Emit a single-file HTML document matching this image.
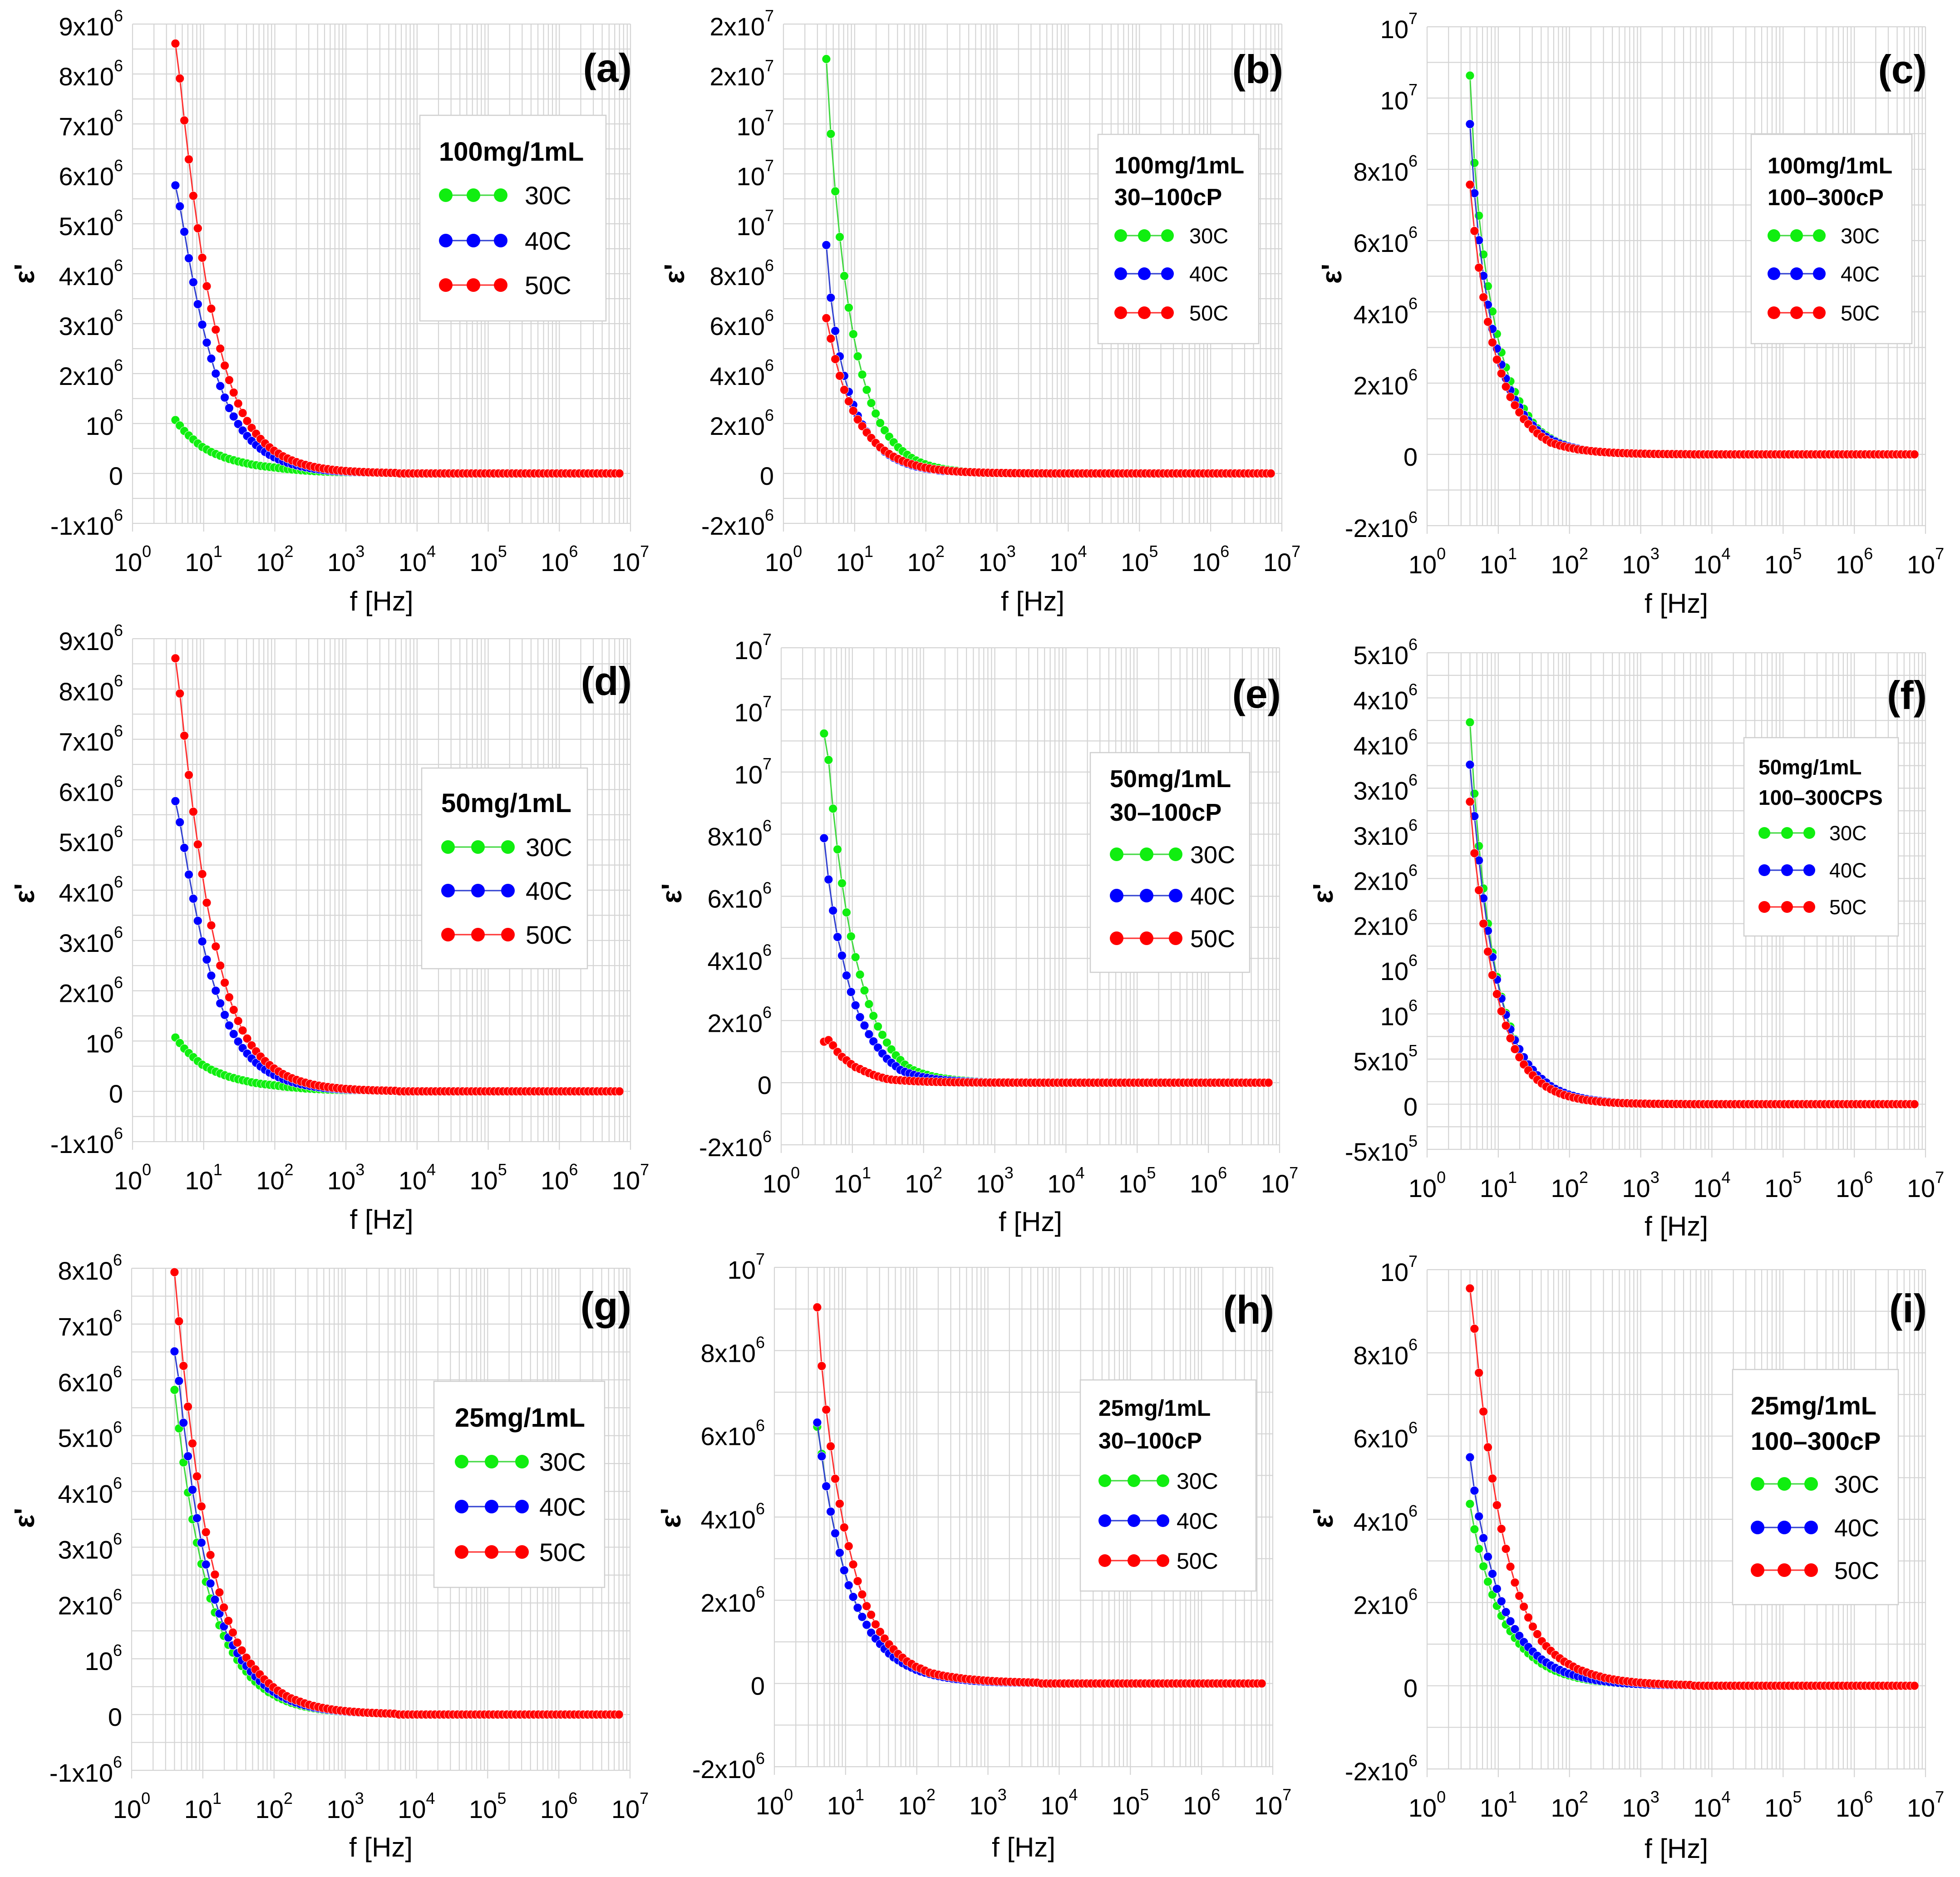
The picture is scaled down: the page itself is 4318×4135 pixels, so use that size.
<!DOCTYPE html>
<html><head><meta charset="utf-8"><title>Dielectric permittivity vs frequency</title>
<style>
html,body{margin:0;padding:0;background:#fff;}
svg{display:block;font-family:"Liberation Sans",Arial,sans-serif;}
</style></head>
<body>
<svg id="chart" width="4318" height="4135" viewBox="0 0 4318 4135" xmlns="http://www.w3.org/2000/svg"></svg>
<script>
// ---------- DATA (values in units of 1e6) ----------
const freqs = Array.from({length:100},(_,i)=>4*Math.pow(7e6/4,i/99));
const Z10 = [0,0,0,0,0,0,0,0,0,0];

const a30 = [1.07,0.96,0.85,0.76,0.68,0.60,0.53,0.48,0.43,0.39,0.355,0.32,0.29,0.265,0.24,0.22,0.20,0.18,0.165,0.15,0.14,0.13,0.12,.108,.097,.087,.079,.071,.064,.057,.052,.046,.042,.038,.034,.031,.028,.025,.022,.020,.018,.016,.015,.013,.012,.011,.010,.009,.008,.007,0,0,0,0,0,0,0,0,0,0,0,0,0,0,0,0,0,0,0,0,0,0,0,0,0,0,0,0,0,0,0,0,0,0,0,0,0,0,0,0,0,0,0,0,0,0,0,0,0,0];
const a40 = [5.77,5.35,4.84,4.31,3.83,3.39,2.98,2.62,2.30,2.00,1.75,1.52,1.31,1.14,0.99,0.86,0.75,.653,.568,.494,.430,.374,.325,.283,.246,.214,.186,.162,.141,.123,.107,.093,.081,.070,.061,.053,.046,.040,.035,.030,.026,.023,.020,.017,.015,.013,.011,.010,.009,.008,0,0,0,0,0,0,0,0,0,0,0,0,0,0,0,0,0,0,0,0,0,0,0,0,0,0,0,0,0,0,0,0,0,0,0,0,0,0,0,0,0,0,0,0,0,0,0,0,0,0];
const a50 = [8.61,7.91,7.07,6.29,5.56,4.91,4.32,3.75,3.30,2.88,2.50,2.16,1.87,1.62,1.40,1.21,1.05,.913,.795,.691,.601,.523,.455,.396,.344,.300,.261,.227,.197,.172,.149,.130,.113,.098,.086,.074,.065,.056,.049,.043,.037,.032,.028,.024,.021,.018,.016,.014,.012,.011,0,0,0,0,0,0,0,0,0,0,0,0,0,0,0,0,0,0,0,0,0,0,0,0,0,0,0,0,0,0,0,0,0,0,0,0,0,0,0,0,0,0,0,0,0,0,0,0,0,0];

const b30 = [16.6,13.6,11.3,9.47,7.91,6.64,5.58,4.69,3.96,3.35,2.82,2.40,2.02,1.73,1.47,1.25,1.05,0.89,0.75,0.62,.52,.44,.37,.31,.26,.22,.18,.15,.13,.11,.09,.077,.065,.054,.046,.038,.032,.027,.023,.019,.016,.014,.011,.010,.008,.007,.006,.005,.004,.003,0,0,0,0,0,0,0,0,0,0,0,0,0,0,0,0,0,0,0,0,0,0,0,0,0,0,0,0,0,0,0,0,0,0,0,0,0,0,0,0,0,0,0,0,0,0,0,0,0,0];
const b40 = [9.15,7.04,5.71,4.69,3.91,3.27,2.75,2.31,1.96,1.67,1.42,1.21,1.03,.87,.74,.63,.54,.46,.39,.33,.28,.24,.20,.17,.15,.12,.10,.09,.08,.065,.055,.047,.04,.034,.029,.025,.021,.018,.015,.013,.011,.009,.008,.007,.006,.005,.004,.003,.003,.002,0,0,0,0,0,0,0,0,0,0,0,0,0,0,0,0,0,0,0,0,0,0,0,0,0,0,0,0,0,0,0,0,0,0,0,0,0,0,0,0,0,0,0,0,0,0,0,0,0,0];
const b50 = [6.22,5.40,4.58,3.91,3.35,2.89,2.51,2.16,1.89,1.64,1.42,1.22,1.05,0.91,0.78,0.67,.58,.50,.43,.37,.32,.27,.23,.20,.17,.15,.13,.11,.095,.082,.07,.06,.052,.045,.038,.033,.028,.024,.021,.018,.016,.013,.011,.010,.008,.007,.006,.005,.005,.004,0,0,0,0,0,0,0,0,0,0,0,0,0,0,0,0,0,0,0,0,0,0,0,0,0,0,0,0,0,0,0,0,0,0,0,0,0,0,0,0,0,0,0,0,0,0,0,0,0,0];

const c30 = [10.63,8.18,6.70,5.61,4.72,4.01,3.38,2.86,2.44,2.05,1.75,1.49,1.28,1.08,0.89,0.73,.62,.53,.45,.38,.32,.28,.23,.20,.17,.145,.12,.105,.09,.075,.064,.054,.046,.039,.033,.028,.024,.02,.017,.015,.013,.011,.009,.008,.007,.006,.005,.004,.004,.003,0,0,0,0,0,0,0,0,0,0,0,0,0,0,0,0,0,0,0,0,0,0,0,0,0,0,0,0,0,0,0,0,0,0,0,0,0,0,0,0,0,0,0,0,0,0,0,0,0,0];
const c40 = [9.27,7.33,6.01,5.01,4.20,3.52,2.97,2.52,2.13,1.80,1.53,1.32,1.11,.95,.81,.68,.58,.49,.42,.36,.30,.26,.22,.19,.16,.135,.115,.098,.083,.071,.06,.051,.043,.037,.031,.027,.023,.019,.016,.014,.012,.01,.009,.007,.006,.005,.005,.004,.003,.003,0,0,0,0,0,0,0,0,0,0,0,0,0,0,0,0,0,0,0,0,0,0,0,0,0,0,0,0,0,0,0,0,0,0,0,0,0,0,0,0,0,0,0,0,0,0,0,0,0,0];
const c50 = [7.57,6.27,5.24,4.41,3.72,3.14,2.66,2.27,1.90,1.61,1.38,1.18,0.99,0.85,0.71,0.59,0.49,0.41,0.33,.29,.25,.22,.19,.165,.14,.125,.11,.094,.082,.071,.062,.054,.047,.041,.036,.031,.027,.023,.02,.018,.015,.013,.012,.01,.009,.008,.007,.006,.005,.004,0,0,0,0,0,0,0,0,0,0,0,0,0,0,0,0,0,0,0,0,0,0,0,0,0,0,0,0,0,0,0,0,0,0,0,0,0,0,0,0,0,0,0,0,0,0,0,0,0,0];

const d30 = [1.07,0.96,0.85,0.76,0.68,0.60,0.53,0.48,0.43,0.39,0.355,0.32,0.29,0.265,0.24,0.22,0.20,0.18,0.165,0.15,0.14,0.13,0.12,.108,.097,.087,.079,.071,.064,.057,.052,.046,.042,.038,.034,.031,.028,.025,.022,.020,.018,.016,.015,.013,.012,.011,.010,.009,.008,.007,0,0,0,0,0,0,0,0,0,0,0,0,0,0,0,0,0,0,0,0,0,0,0,0,0,0,0,0,0,0,0,0,0,0,0,0,0,0,0,0,0,0,0,0,0,0,0,0,0,0];
const d40 = [5.77,5.35,4.84,4.31,3.83,3.39,2.98,2.62,2.30,2.00,1.75,1.52,1.31,1.14,0.99,0.86,0.75,.653,.568,.494,.430,.374,.325,.283,.246,.214,.186,.162,.141,.123,.107,.093,.081,.070,.061,.053,.046,.040,.035,.030,.026,.023,.020,.017,.015,.013,.011,.010,.009,.008,0,0,0,0,0,0,0,0,0,0,0,0,0,0,0,0,0,0,0,0,0,0,0,0,0,0,0,0,0,0,0,0,0,0,0,0,0,0,0,0,0,0,0,0,0,0,0,0,0,0];
const d50 = [8.61,7.91,7.07,6.29,5.56,4.91,4.32,3.75,3.30,2.88,2.50,2.16,1.87,1.62,1.40,1.21,1.05,.913,.795,.691,.601,.523,.455,.396,.344,.300,.261,.227,.197,.172,.149,.130,.113,.098,.086,.074,.065,.056,.049,.043,.037,.032,.028,.024,.021,.018,.016,.014,.012,.011,0,0,0,0,0,0,0,0,0,0,0,0,0,0,0,0,0,0,0,0,0,0,0,0,0,0,0,0,0,0,0,0,0,0,0,0,0,0,0,0,0,0,0,0,0,0,0,0,0,0];

const e30 = [11.24,10.39,8.82,7.51,6.42,5.48,4.71,4.04,3.48,2.97,2.53,2.15,1.81,1.54,1.29,1.07,0.88,0.73,0.58,0.47,.40,.34,.29,.25,.21,.18,.15,.13,.11,.093,.079,.067,.057,.048,.041,.035,.03,.025,.021,.018,.015,.013,.011,.009,.008,.007,.006,.005,.004,.004,0,0,0,0,0,0,0,0,0,0,0,0,0,0,0,0,0,0,0,0,0,0,0,0,0,0,0,0,0,0,0,0,0,0,0,0,0,0,0,0,0,0,0,0,0,0,0,0,0,0];
const e40 = [7.87,6.54,5.54,4.69,4.09,3.45,2.92,2.49,2.11,1.84,1.56,1.33,1.13,.94,.77,.64,.53,.41,.35,.30,.25,.21,.18,.155,.13,.11,.095,.08,.068,.058,.05,.042,.036,.03,.026,.022,.019,.016,.013,.011,.01,.008,.007,.006,.005,.004,.004,.003,.003,.002,0,0,0,0,0,0,0,0,0,0,0,0,0,0,0,0,0,0,0,0,0,0,0,0,0,0,0,0,0,0,0,0,0,0,0,0,0,0,0,0,0,0,0,0,0,0,0,0,0,0];
const e50 = [1.32,1.37,1.20,0.99,0.83,0.72,0.60,0.50,0.44,0.37,0.31,0.25,0.20,0.16,0.12,0.10,.087,.076,.066,.057,.05,.043,.038,.033,.029,.025,.022,.019,.016,.014,.012,.011,.009,.008,.007,.006,.005,.005,.004,.004,.003,.003,.002,.002,.002,.002,.001,.001,.001,.001,0,0,0,0,0,0,0,0,0,0,0,0,0,0,0,0,0,0,0,0,0,0,0,0,0,0,0,0,0,0,0,0,0,0,0,0,0,0,0,0,0,0,0,0,0,0,0,0,0,0];

const f30 = [4.23,3.44,2.86,2.39,2.00,1.68,1.41,1.19,1.01,0.86,0.72,0.61,.52,.44,.37,.32,.27,.23,.195,.166,.141,.12,.102,.087,.074,.063,.053,.045,.038,.033,.028,.024,.02,.017,.015,.012,.011,.009,.008,.007,.006,.005,.004,.004,.003,.003,.002,.002,.002,.001,0,0,0,0,0,0,0,0,0,0,0,0,0,0,0,0,0,0,0,0,0,0,0,0,0,0,0,0,0,0,0,0,0,0,0,0,0,0,0,0,0,0,0,0,0,0,0,0,0,0];
const f40 = [3.76,3.19,2.70,2.28,1.92,1.63,1.38,1.17,0.99,0.83,.71,.61,.52,.44,.38,.32,.28,.24,.2,.17,.147,.126,.107,.092,.078,.067,.057,.049,.042,.036,.031,.026,.022,.019,.016,.014,.012,.01,.009,.008,.007,.006,.005,.004,.004,.003,.003,.002,.002,.002,0,0,0,0,0,0,0,0,0,0,0,0,0,0,0,0,0,0,0,0,0,0,0,0,0,0,0,0,0,0,0,0,0,0,0,0,0,0,0,0,0,0,0,0,0,0,0,0,0,0];
const f50 = [3.35,2.78,2.37,2.00,1.69,1.43,1.22,1.03,0.87,0.73,0.61,.52,.44,.375,.32,.27,.23,.195,.166,.141,.12,.102,.087,.074,.063,.053,.045,.038,.033,.028,.024,.02,.017,.015,.012,.011,.009,.008,.007,.006,.005,.004,.004,.003,.003,.002,.002,.002,.001,.001,0,0,0,0,0,0,0,0,0,0,0,0,0,0,0,0,0,0,0,0,0,0,0,0,0,0,0,0,0,0,0,0,0,0,0,0,0,0,0,0,0,0,0,0,0,0,0,0,0,0];

const g30 = [5.82,5.13,4.52,3.98,3.50,3.08,2.70,2.38,2.08,1.83,1.60,1.41,1.25,1.11,0.98,0.87,.77,.67,.59,.52,.46,.40,.36,.31,.275,.24,.21,.186,.164,.144,.127,.112,.098,.086,.076,.067,.059,.052,.046,.04,.035,.031,.027,.024,.021,.019,.017,.015,.013,.011,0,0,0,0,0,0,0,0,0,0,0,0,0,0,0,0,0,0,0,0,0,0,0,0,0,0,0,0,0,0,0,0,0,0,0,0,0,0,0,0,0,0,0,0,0,0,0,0,0,0];
const g40 = [6.51,5.98,5.23,4.63,4.03,3.52,3.08,2.69,2.35,2.06,1.81,1.58,1.38,1.24,1.10,0.97,0.87,0.77,.68,.60,.53,.46,.41,.36,.32,.28,.245,.215,.19,.167,.147,.129,.114,.1,.088,.077,.068,.06,.053,.046,.041,.036,.032,.028,.025,.022,.019,.017,.015,.013,0,0,0,0,0,0,0,0,0,0,0,0,0,0,0,0,0,0,0,0,0,0,0,0,0,0,0,0,0,0,0,0,0,0,0,0,0,0,0,0,0,0,0,0,0,0,0,0,0,0];
const g50 = [7.93,7.05,6.25,5.52,4.86,4.27,3.73,3.27,2.86,2.51,2.19,1.92,1.68,1.47,1.29,1.15,1.02,0.91,0.81,0.72,.63,.56,.49,.43,.38,.33,.29,.26,.23,.20,.175,.154,.135,.119,.105,.092,.081,.071,.063,.055,.049,.043,.037,.033,.029,.026,.022,.02,.017,.015,0,0,0,0,0,0,0,0,0,0,0,0,0,0,0,0,0,0,0,0,0,0,0,0,0,0,0,0,0,0,0,0,0,0,0,0,0,0,0,0,0,0,0,0,0,0,0,0,0,0];

const h30 = [6.17,5.52,4.74,4.13,3.60,3.13,2.71,2.35,2.07,1.81,1.59,1.40,1.21,1.07,.94,.82,.71,.62,.55,.48,.43,.38,.33,.29,.26,.23,.2,.176,.155,.136,.12,.105,.093,.082,.072,.063,.056,.049,.043,.038,.033,.029,.026,.023,.02,.018,.016,.014,.012,.011,0,0,0,0,0,0,0,0,0,0,0,0,0,0,0,0,0,0,0,0,0,0,0,0,0,0,0,0,0,0,0,0,0,0,0,0,0,0,0,0,0,0,0,0,0,0,0,0,0,0];
const h40 = [6.27,5.46,4.74,4.13,3.61,3.14,2.72,2.36,2.08,1.82,1.60,1.41,1.22,1.08,0.95,0.83,0.72,0.63,0.56,0.49,.43,.38,.33,.29,.26,.23,.2,.176,.155,.136,.12,.105,.093,.082,.072,.063,.056,.049,.043,.038,.033,.029,.026,.023,.02,.018,.016,.014,.012,.011,0,0,0,0,0,0,0,0,0,0,0,0,0,0,0,0,0,0,0,0,0,0,0,0,0,0,0,0,0,0,0,0,0,0,0,0,0,0,0,0,0,0,0,0,0,0,0,0,0,0];
const h50 = [9.04,7.63,6.58,5.70,4.92,4.32,3.75,3.30,2.86,2.46,2.14,1.86,1.65,1.42,1.24,1.08,0.94,0.82,0.71,0.62,0.53,0.47,0.40,0.36,0.31,0.26,.235,.21,.19,.17,.155,.14,.125,.11,.10,.09,.081,.073,.066,.059,.053,.048,.043,.039,.035,.031,.028,.025,.023,.02,0,0,0,0,0,0,0,0,0,0,0,0,0,0,0,0,0,0,0,0,0,0,0,0,0,0,0,0,0,0,0,0,0,0,0,0,0,0,0,0,0,0,0,0,0,0,0,0,0,0];

const i30 = [4.37,3.76,3.29,2.87,2.50,2.19,1.92,1.68,1.47,1.31,1.15,1.01,.89,.78,.69,.61,.53,.47,.41,.36,.32,.28,.25,.22,.19,.17,.15,.13,.115,.1,.089,.078,.069,.061,.053,.047,.041,.036,.032,.028,.025,.022,.019,.017,.015,.013,.012,.01,.009,.008,0,0,0,0,0,0,0,0,0,0,0,0,0,0,0,0,0,0,0,0,0,0,0,0,0,0,0,0,0,0,0,0,0,0,0,0,0,0,0,0,0,0,0,0,0,0,0,0,0,0];
const i40 = [5.49,4.69,4.07,3.55,3.10,2.69,2.33,2.03,1.77,1.55,1.36,1.2,1.05,.93,.82,.72,.63,.56,.49,.43,.38,.33,.29,.26,.23,.2,.176,.155,.136,.12,.105,.093,.082,.072,.063,.056,.049,.043,.038,.033,.029,.026,.023,.02,.018,.016,.014,.012,.011,.01,0,0,0,0,0,0,0,0,0,0,0,0,0,0,0,0,0,0,0,0,0,0,0,0,0,0,0,0,0,0,0,0,0,0,0,0,0,0,0,0,0,0,0,0,0,0,0,0,0,0];
const i50 = [9.55,8.58,7.52,6.59,5.73,4.98,4.34,3.77,3.29,2.86,2.48,2.16,1.90,1.64,1.42,1.24,1.07,.95,.84,.74,.66,.58,.52,.46,.40,.36,.32,.28,.25,.22,.19,.17,.15,.134,.118,.105,.093,.082,.073,.064,.057,.05,.045,.04,.035,.031,.027,.024,.021,.019,0,0,0,0,0,0,0,0,0,0,0,0,0,0,0,0,0,0,0,0,0,0,0,0,0,0,0,0,0,0,0,0,0,0,0,0,0,0,0,0,0,0,0,0,0,0,0,0,0,0];

// tick values (1e6) and labels
const ticksA = [-1,0,1,2,3,4,5,6,7,8,9];
const labelsA = ["-1x10^6","0","10^6","2x10^6","3x10^6","4x10^6","5x10^6","6x10^6","7x10^6","8x10^6","9x10^6"];
const ticksB = [-2,0,2,4,6,8,10,12,14,16,18];
const labelsB = ["-2x10^6","0","2x10^6","4x10^6","6x10^6","8x10^6","10^7","10^7","10^7","2x10^7","2x10^7"];
const ticksC = [-2,0,2,4,6,8,10,12];
const labelsC = ["-2x10^6","0","2x10^6","4x10^6","6x10^6","8x10^6","10^7","10^7"];
const ticksE = [-2,0,2,4,6,8,10,12,14];
const labelsE = ["-2x10^6","0","2x10^6","4x10^6","6x10^6","8x10^6","10^7","10^7","10^7"];
const ticksF = [-0.5,0,0.5,1,1.5,2,2.5,3,3.5,4,4.5,5];
const labelsF = ["-5x10^5","0","5x10^5","10^6","10^6","2x10^6","2x10^6","3x10^6","3x10^6","4x10^6","4x10^6","5x10^6"];
const ticksG = [-1,0,1,2,3,4,5,6,7,8];
const labelsG = ["-1x10^6","0","10^6","2x10^6","3x10^6","4x10^6","5x10^6","6x10^6","7x10^6","8x10^6"];
const ticksH = [-2,0,2,4,6,8,10];
const labelsH = ["-2x10^6","0","2x10^6","4x10^6","6x10^6","8x10^6","10^7"];
const xDecades = [0,1,2,3,4,5,6,7];
const seriesNames = ["30C","40C","50C"];

// ---------- LAYOUT ----------
const panels = [
 {id:'a',x0:292,x1:1389,yt:53,yb:1153,tk:ticksA,lb:labelsA,s:[a30,a40,a50],lab:'(a)',lbY:180,yl:[55,603],xlY:1345,
  lg:{x:925,y:254,w:410,h:453,t:['100mg/1mL'],tY:[354],tfs:58,eY:[430,530,628],mx:[982,1043,1103],r:15,tx:1156,efs:56}},
 {id:'b',x0:1726,x1:2824,yt:53,yb:1153,tk:ticksB,lb:labelsB,s:[b30,b40,b50],lab:'(b)',lbY:183,yl:[1487,603],xlY:1345,
  lg:{x:2419,y:296,w:354,h:461,t:['100mg/1mL','30–100cP'],tY:[382,452],tfs:52,eY:[519,603,689],mx:[2469,2521,2572],r:14,tx:2620,efs:47}},
 {id:'c',x0:3144,x1:4242,yt:59,yb:1158,tk:ticksC,lb:labelsC,s:[c30,c40,c50],lab:'(c)',lbY:183,yl:[2935,603],xlY:1350,
  lg:{x:3858,y:296,w:354,h:461,t:['100mg/1mL','100–300cP'],tY:[382,452],tfs:50,eY:[519,603,689],mx:[3908,3958,4008],r:14,tx:4055,efs:47}},
 {id:'d',x0:292,x1:1389,yt:1407,yb:2515,tk:ticksA,lb:labelsA,s:[d30,d40,d50],lab:'(d)',lbY:1531,yl:[55,1968],xlY:2707,
  lg:{x:929,y:1692,w:365,h:442,t:['50mg/1mL'],tY:[1789],tfs:58,eY:[1866,1962,2059],mx:[987,1053,1119],r:15,tx:1158,efs:56}},
 {id:'e',x0:1721,x1:2819,yt:1427,yb:2522,tk:ticksE,lb:labelsE,s:[e30,e40,e50],lab:'(e)',lbY:1559,yl:[1481,1968],xlY:2712,
  lg:{x:2402,y:1658,w:351,h:484,t:['50mg/1mL','30–100cP'],tY:[1734,1808],tfs:54,eY:[1882,1973,2067],mx:[2460,2526,2590],r:15,tx:2622,efs:54}},
 {id:'f',x0:3144,x1:4242,yt:1438,yb:2532,tk:ticksF,lb:labelsF,s:[f30,f40,f50],lab:'(f)',lbY:1562,yl:[2916,1968],xlY:2722,
  lg:{x:3842,y:1625,w:340,h:437,t:['50mg/1mL','100–300CPS'],tY:[1706,1773],tfs:46,eY:[1835,1917,1998],mx:[3887,3937,3986],r:13,tx:4030,efs:45}},
 {id:'g',x0:290,x1:1388,yt:2794,yb:3900,tk:ticksG,lb:labelsG,s:[g30,g40,g50],lab:'(g)',lbY:2908,yl:[55,3344],xlY:4090,
  lg:{x:956,y:3043,w:376,h:454,t:['25mg/1mL'],tY:[3143],tfs:58,eY:[3220,3319,3419],mx:[1017,1083,1150],r:15,tx:1188,efs:56}},
 {id:'h',x0:1706,x1:2804,yt:2792,yb:3892,tk:ticksH,lb:labelsH,s:[h30,h40,h50],lab:'(h)',lbY:2916,yl:[1479,3344],xlY:4090,
  lg:{x:2380,y:3040,w:387,h:465,t:['25mg/1mL','30–100cP'],tY:[3119,3191],tfs:50,eY:[3262,3350,3438],mx:[2434,2498,2562],r:14,tx:2592,efs:50}},
 {id:'i',x0:3144,x1:4242,yt:2797,yb:3897,tk:ticksH,lb:labelsH,s:[i30,i40,i50],lab:'(i)',lbY:2913,yl:[2916,3344],xlY:4093,
  lg:{x:3817,y:3017,w:365,h:518,t:['25mg/1mL','100–300cP'],tY:[3116,3194],tfs:56,eY:[3269,3365,3459],mx:[3872,3931,3990],r:15,tx:4041,efs:54}}
];
const COL = ['#10ee10','#0000ff','#ff0000'];
const LCOL = ['#40d840','#3040d0','#ff3030'];

const svg = document.getElementById('chart');
const NS = 'http://www.w3.org/2000/svg';
function mk(tag, attrs, parent){
  const el = document.createElementNS(NS, tag);
  for (const k in attrs) el.setAttribute(k, attrs[k]);
  parent.appendChild(el);
  return el;
}
function powText(el, str, supSize, rise){
  const parts = str.split('^');
  el.appendChild(document.createTextNode(parts[0]));
  if (parts.length > 1){
    const t = document.createElementNS(NS,'tspan');
    t.setAttribute('dy', -rise);
    t.setAttribute('font-size', supSize);
    t.textContent = parts[1];
    el.appendChild(t);
  }
}

panels.forEach(p => {
  const g = mk('g', {}, svg);
  
  
  const yMin = p.tk[0], yMax = p.tk[p.tk.length-1];
  const dec = (p.x1 - p.x0) / 7;
  const X = f => p.x0 + Math.log10(f) * dec;
  const Y = v => p.yb - (v - yMin) / (yMax - yMin) * (p.yb - p.yt);

  // grid
  const grid = mk('g', {stroke:'#d4d4d4','stroke-width':2.2, fill:'none'}, g);
  
  
  xDecades.forEach(d => {
    const ks = d < 7 ? [1,2,3,4,5,6,7,8,9] : [1];
    ks.forEach(k => {
      const x = X(Math.pow(10,d)*k);
      mk('line', {x1:x, x2:x, y1:p.yt, y2: p.yb + (k===1 ? 18 : 0)}, grid);
    });
  });
  const step = p.tk[1] - p.tk[0];
  for (let v = yMin; v <= yMax + 1e-9; v += step/2){
    const y = Y(v);
    mk('line', {x1:p.x0, x2:p.x1, y1:y, y2:y}, grid);
  }

  // y tick labels
  p.tk.forEach((v, j) => {
    const t = mk('text', {x:p.x0 - 21, y:Y(v) + 25, 'text-anchor':'end', 'font-size':56, fill:'#000'}, g);
    
    
    powText(t, p.lb[j], 36, 31);
  });
  // x tick labels
  xDecades.forEach(d => {
    const t = mk('text', {x:X(Math.pow(10,d)), y:p.yb + 105, 'text-anchor':'middle', 'font-size':56, fill:'#000'}, g);
    
    
    powText(t, '10^' + d, 36, 31);
  });
  // axis titles
  const xt = mk('text', {x:(p.x0+p.x1)/2, y:p.xlY, 'text-anchor':'middle', 'font-size':60, fill:'#000'}, g);
  
  
  xt.textContent = 'f [Hz]';
  const yt = mk('text', {x:0, y:0, 'text-anchor':'middle', 'font-size':62, 'font-weight':'bold', fill:'#000',
     transform:'translate(' + (p.yl[0]+20) + ',' + p.yl[1] + ') rotate(-90)'}, g);
  
  
  yt.textContent = "ε'";

  // series
  [0,1,2].forEach(si => {
    const vals = p.s[si];
    const n = Math.min(vals.length, freqs.length);
    const sg = mk('g', {}, g);
    
    
    let d = '';
    for (let i = 0; i < n; i++) d += (i ? 'L' : 'M') + X(freqs[i]).toFixed(1) + ' ' + Y(vals[i]).toFixed(1);
    const path = mk('path', {d:d, fill:'none', stroke:LCOL[si], 'stroke-width':3}, sg);
    
    
    for (let i = 0; i < n; i++){
      const c = mk('circle', {cx:X(freqs[i]).toFixed(1), cy:Y(vals[i]).toFixed(1), r:9.5, fill:COL[si], stroke:'#fff', 'stroke-width':0.8}, sg);
      
      
    }
  });

  // legend
  const L = p.lg;
  const lg = mk('g', {}, g);
  
  
  mk('rect', {x:L.x, y:L.y, width:L.w, height:L.h, fill:'#fff', stroke:'#cfcfcf', 'stroke-width':2.5}, lg);
  L.t.forEach((s, j) => {
    const t = mk('text', {x:L.mx[0]-L.r, y:L.tY[j], 'font-size':L.tfs, 'font-weight':'bold', fill:'#000'}, lg);
    
    
    t.textContent = s;
  });
  [0,1,2].forEach(si => {
    const eg = mk('g', {}, lg);
    
    
    const y = L.eY[si];
    mk('line', {x1:L.mx[0], x2:L.mx[2], y1:y, y2:y, stroke:LCOL[si], 'stroke-width':3}, eg);
    L.mx.forEach(mx => mk('circle', {cx:mx, cy:y, r:L.r, fill:COL[si]}, eg));
    const t = mk('text', {x:L.tx, y:y + L.efs*0.36, 'font-size':L.efs, fill:'#000'}, eg);
    t.textContent = seriesNames[si];
  });

  // panel label
  const pl = mk('text', {x:p.x1 + 3, y:p.lbY, 'text-anchor':'end', 'font-size':88, 'font-weight':'bold', fill:'#000'}, g);
  
  
  pl.textContent = p.lab;
});
</script>
</body></html>
